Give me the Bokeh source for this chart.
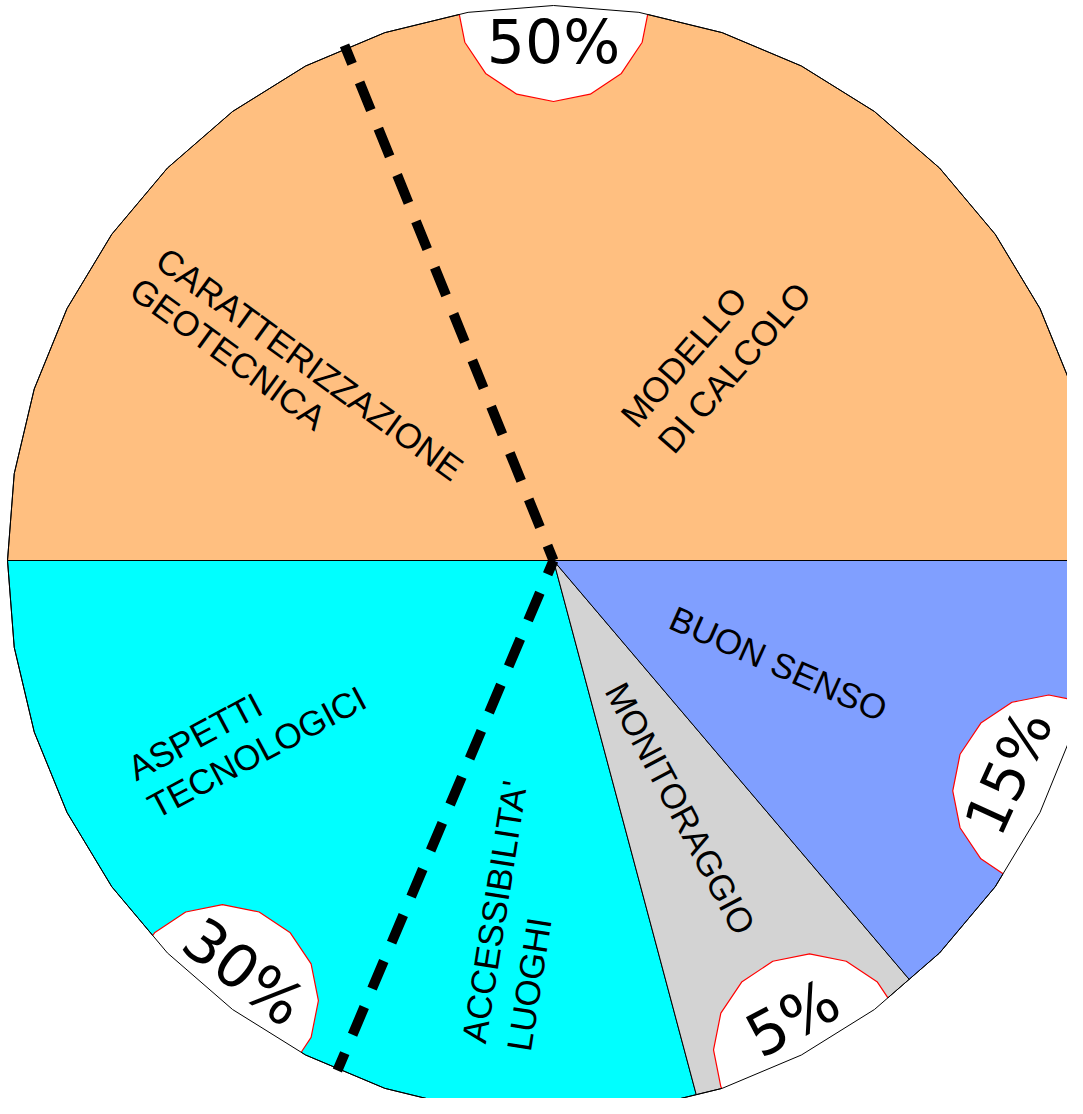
import numpy as np
from bokeh.plotting import figure
from bokeh.models import Range1d
from bokeh.embed import file_html
from bokeh.resources import INLINE
from bokeh.core.properties import value

# ---------------- data ----------------
slice_names = ["MODELLO DI CALCOLO + CARATTERIZZAZIONE GEOTECNICA",
               "ASPETTI TECNOLOGICI + ACCESSIBILITA' LUOGHI",
               "MONITORAGGIO",
               "BUON SENSO"]
span_deg = [180.0, 105.2, 25.6, 49.2]      # drawn angular extent, CCW from 3 o'clock
pct_labels = ["50%", "30%", "5%", "15%"]
slice_colors = ["#FFBF80", "#00FFFF", "#D3D3D3", "#809FFF"]
divider_deg = [112.4, 246.7]               # dashed sub-dividers inside the 50% and 30% slices

inner_text = ["CARATTERIZZAZIONE", "GEOTECNICA", "MODELLO", "DI CALCOLO",
              "BUON SENSO", "MONITORAGGIO", "ASPETTI", "TECNOLOGICI",
              "ACCESSIBILITA'", "LUOGHI"]

# ---------------- layout / style ----------------
CX, CY = 553.0, -560.0
RX, RY = 546.0, 555.0
NSEG = 40
STEP = 360.0 / NSEG
NOTCH_R = 96.0
pct_inset = [36, 36, 36, 44]
pct_size = ["60px", "60px", "60px", "58px"]

# label anchors (px from top-left), angle (deg), alignment
inner_pos = [(160, 255, -36, "left"), (134, 285, -36, "left"),
             (627, 421, 49, "left"), (664, 447, 49, "left"),
             (778, 663, -24, "center"), (680, 808, -62, "center"),
             (130, 770, 28, "left"), (150, 808, 28, "left"),
             (473, 1042, 81, "left"), (518, 1050, 81, "left")]


def poly_r(theta):
    k = np.floor(theta / STEP)
    mid = (k + 0.5) * STEP
    return np.cos(np.radians(STEP / 2)) / np.cos(np.radians(theta - mid))


def edge_pt(theta, extra=0.0):
    r = poly_r(theta % 360.0)
    t = np.radians(theta)
    return CX + (RX * r + extra) * np.cos(t), CY + (RY * r + extra) * np.sin(t)


def inside(px, py):
    u = (px - CX) / RX
    v = (py - CY) / RY
    phi = np.degrees(np.arctan2(v, u)) % 360.0
    return np.hypot(u, v) < poly_r(phi)


p = figure(width=1067, height=1098, x_range=Range1d(0, 1067), y_range=Range1d(-1098, 0),
           output_backend="svg", toolbar_location=None, min_border=0,
           x_axis_location=None, y_axis_location=None)
p.grid.visible = False
p.outline_line_color = None
p.background_fill_color = "white"
p.border_fill_color = "white"

# slices
starts = np.concatenate([[0.0], np.cumsum(span_deg)[:-1]])
xs, ys, mids = [], [], []
for s, w in zip(starts, span_deg):
    e = s + w
    mids.append(s + w / 2)
    px, py = [CX], [CY]
    x0, y0 = edge_pt(s)
    px.append(x0); py.append(y0)
    k = int(np.floor(s / STEP)) + 1
    while k * STEP < e - 1e-9:
        x1, y1 = edge_pt(k * STEP)
        px.append(x1); py.append(y1)
        k += 1
    x2, y2 = edge_pt(e - 1e-9)
    px.append(x2); py.append(y2)
    xs.append(px); ys.append(py)
p.patches(xs, ys, fill_color=slice_colors, line_color="black", line_width=1)

# notches
ang = np.radians(np.arange(16) * 22.5)
for m in mids:
    nx, ny = edge_pt(m)
    vx = nx + NOTCH_R * np.cos(ang)
    vy = ny + NOTCH_R * np.sin(ang)
    p.patch(list(vx), list(vy), fill_color="white", line_color=None)
    flags = [inside(a, b) for a, b in zip(vx, vy)]
    n = len(flags)
    start = [i for i in range(n) if flags[i] and not flags[i - 1]][0]

    def cross(i_out, i_in):
        ax, ay, bx, by = vx[i_out], vy[i_out], vx[i_in], vy[i_in]
        lo, hi = 0.0, 1.0
        for _ in range(30):
            md = (lo + hi) / 2
            if inside(ax + (bx - ax) * md, ay + (by - ay) * md):
                hi = md
            else:
                lo = md
        return ax + (bx - ax) * hi, ay + (by - ay) * hi
    lx, ly = [], []
    c = cross((start - 1) % n, start)
    lx.append(c[0]); ly.append(c[1])
    i = start
    while flags[i % n]:
        lx.append(vx[i % n]); ly.append(vy[i % n])
        i += 1
    c = cross(i % n, (i - 1) % n)
    lx.append(c[0]); ly.append(c[1])
    p.line(lx, ly, line_color="red", line_width=1.2)

# outer outline of the faceted pie
ox, oy = zip(*[edge_pt(k * STEP) for k in range(NSEG + 1)])
p.line(list(ox), list(oy), line_color="black", line_width=1)

# dashed dividers
ux, uy = edge_pt(divider_deg[0], 4)
p.line([ux, CX], [uy, CY], line_color="black", line_width=10, line_dash="30 20",
       line_dash_offset=10, line_cap="butt")
lx2, ly2 = edge_pt(divider_deg[1], 2)
p.line([CX, lx2], [CY, ly2], line_color="black", line_width=10, line_dash="30 20",
       line_dash_offset=15, line_cap="butt")

# percentage labels
for lab, m, ins, fs in zip(pct_labels, mids, pct_inset, pct_size):
    nx, ny = edge_pt(m)
    d = np.hypot(CX - nx, CY - ny)
    tx = nx + (CX - nx) / d * ins
    ty = ny + (CY - ny) / d * ins
    rot = (m - 90) % 360
    if 90 < rot < 270:
        rot -= 180
    p.text([tx], [ty], text=[lab], angle=[np.radians(rot)], text_font=value("DejaVu Sans"),
           text_font_size=fs, text_align="center", text_baseline="middle",
           text_color="black")

# inner labels
for t, (sx, sy, a, al) in zip(inner_text, inner_pos):
    p.text([sx], [-sy], text=[t], angle=[np.radians(a)], text_font=value("Liberation Sans"),
           text_font_size="35px", text_align=al, text_baseline="middle", text_color="black")

open("out.html", "w").write(file_html(p, INLINE))
